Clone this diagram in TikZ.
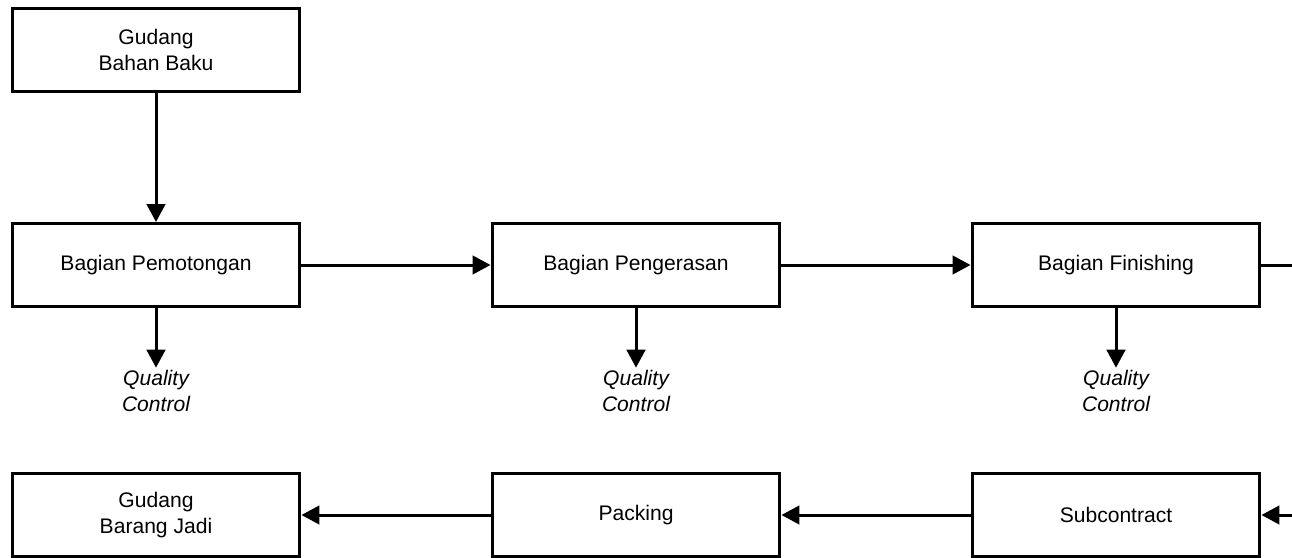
\documentclass[tikz,border=0pt]{standalone}
\usepackage{fontspec}
\setmainfont{Liberation Sans}
\usetikzlibrary{arrows.meta}
\usetikzlibrary{positioning}

\begin{document}
\begin{tikzpicture}[x=0.02cm,y=-0.02cm]
	%\draw[help lines] (0,0) grid (1292,558);
	\useasboundingbox (0,0) rectangle (1292,558);
	\clip (0,0) rectangle (1292,558);
	
	\tikzstyle{bnode} = [rectangle,draw,line width=0.06cm,fill=white,minimum width=5.76cm,minimum height=1.66cm,align=center,font=\fontsize{12}{15.3}\selectfont]
	\tikzstyle{qnode} = [align=center,inner sep=1pt,font=\fontsize{12}{15.3}\selectfont\itshape]
	\tikzstyle{vedge} = [-{Triangle[length=0.36cm,width=0.37cm]},line width=0.06cm]
	
	\node[bnode] (gbb) at (156, 50) {Gudang\\Bahan Baku};
	
	\node[bnode] (pot) at (156, 265) {Bagian Pemotongan};
	\node[bnode] (pen) at (636, 265) {Bagian Pengerasan};
	\node[bnode] (fin) at (1116, 265) {Bagian Finishing};
	
	\node[qnode] (qc1) at (156, 391) {Quality\\Control};
	\node[qnode] (qc2) at (636, 391) {Quality\\Control};
	\node[qnode] (qc3) at (1116, 391) {Quality\\Control};
	
	\node[bnode] (gbj) at (156, 515) {Gudang\\Barang Jadi};
	\node[bnode] (pack) at (636, 515) {Packing};
	\node[bnode] (sub) at (1116, 515) {Subcontract};
	
	\coordinate (r1) at (1330, 265);
	\coordinate (r2) at (1330, 515);
	
	\draw (gbb) edge [vedge] (pot);
	\draw (pot) edge [vedge] (pen);
	\draw (pen) edge [vedge] (fin);
	\draw (pot) edge [vedge] (qc1);
	\draw (pen) edge [vedge] (qc2);
	\draw (fin) edge [vedge] (qc3);
	\draw[vedge] (fin) -- (r1) -- (r2) -- (sub);
	\draw (sub) edge [vedge] (pack);
	\draw (pack) edge [vedge] (gbj);

\end{tikzpicture}
\end{document}
